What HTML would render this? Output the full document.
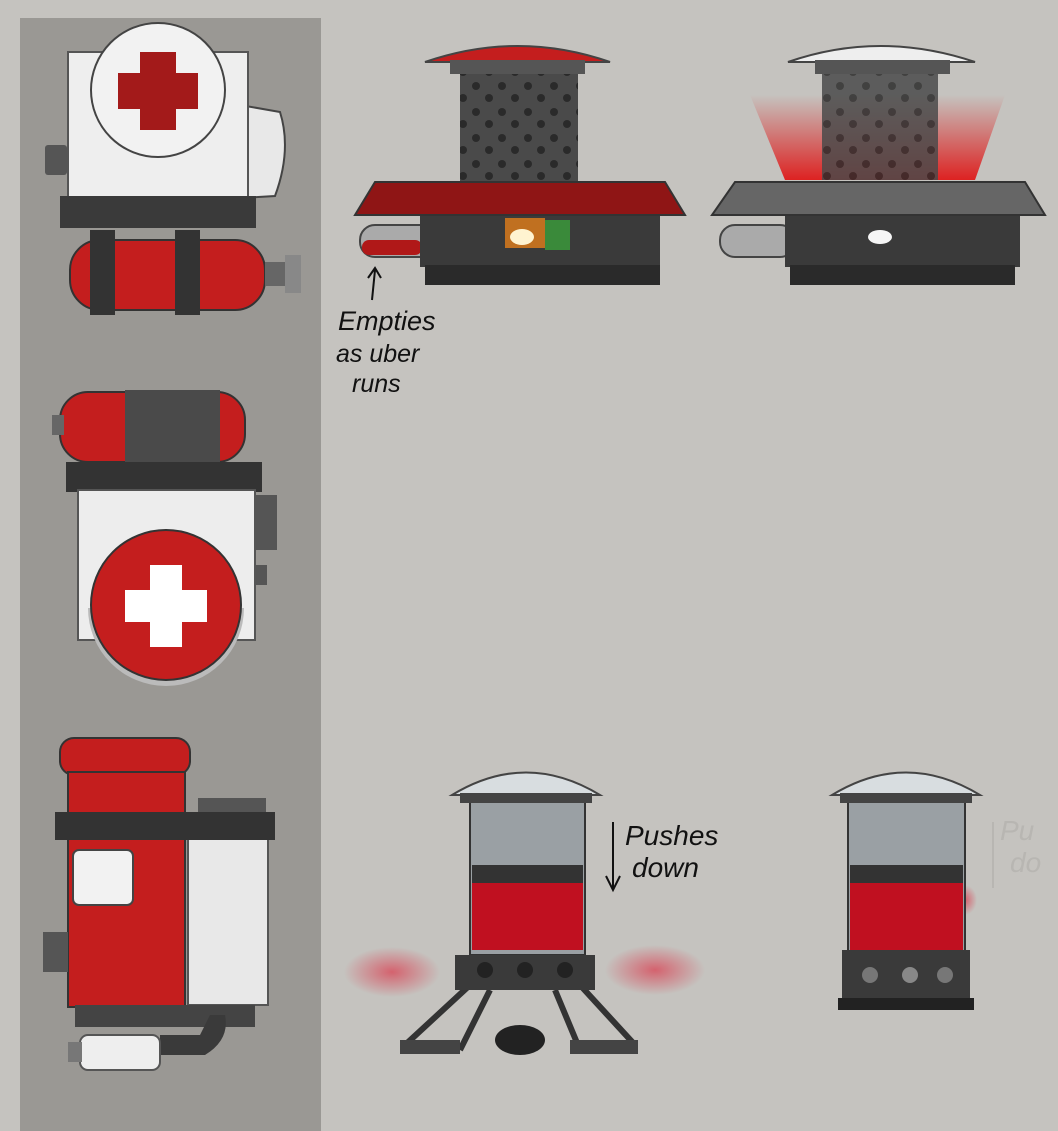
<!DOCTYPE html>
<html><head><meta charset="utf-8"><style>
html,body{margin:0;padding:0;background:#c5c3bf;}
svg{display:block}
text{font-family:"Liberation Sans",sans-serif;font-style:italic;}
</style></head><body>
<svg width="1058" height="1131" viewBox="0 0 1058 1131" xmlns="http://www.w3.org/2000/svg">
<defs>
<pattern id="dots" width="26" height="26" patternUnits="userSpaceOnUse">
<rect width="26" height="26" fill="#4a4a4a"/><circle cx="8" cy="8" r="4" fill="#2a2a2a"/><circle cx="21" cy="20" r="4" fill="#2a2a2a"/>
</pattern>
<linearGradient id="glow" x1="0" y1="1" x2="0" y2="0"><stop offset="0" stop-color="#e01010" stop-opacity="0.9"/><stop offset="1" stop-color="#e01010" stop-opacity="0"/></linearGradient>
<radialGradient id="blob"><stop offset="0" stop-color="#d84a5a" stop-opacity="0.8"/><stop offset="1" stop-color="#d84a5a" stop-opacity="0"/></radialGradient>
</defs>
<rect width="1058" height="1131" fill="#c5c3bf"/>
<rect x="20" y="18" width="301" height="1113" fill="#9a9894"/>

<!-- top-left medic pack -->
<rect x="45" y="145" width="22" height="30" fill="#555" rx="3"/>
<path d="M240 105 L280 112 Q292 150 275 196 L240 198 Z" fill="#e8e8e8" stroke="#444" stroke-width="2"/>
<rect x="68" y="52" width="180" height="148" fill="#eeeeee" stroke="#555" stroke-width="2"/>
<circle cx="158" cy="90" r="67" fill="#f2f2f2" stroke="#444" stroke-width="2"/>
<rect x="140" y="52" width="36" height="78" fill="#a31a1a"/>
<rect x="118" y="73" width="80" height="36" fill="#a31a1a"/>
<rect x="60" y="196" width="196" height="32" fill="#3a3a3a"/>
<rect x="70" y="240" width="195" height="70" rx="30" fill="#c41e1e" stroke="#333" stroke-width="2"/>
<rect x="90" y="230" width="25" height="85" fill="#333"/>
<rect x="175" y="230" width="25" height="85" fill="#333"/>
<rect x="265" y="262" width="20" height="24" fill="#666"/>
<rect x="285" y="255" width="16" height="38" fill="#888"/>

<!-- middle-left -->
<rect x="60" y="392" width="185" height="70" rx="28" fill="#c41e1e" stroke="#333" stroke-width="2"/>
<rect x="52" y="415" width="12" height="20" fill="#666"/>
<rect x="125" y="390" width="95" height="75" fill="#4a4a4a"/>
<rect x="66" y="462" width="196" height="30" fill="#333"/>
<rect x="78" y="490" width="177" height="150" fill="#ededed" stroke="#555" stroke-width="2"/>
<rect x="255" y="495" width="22" height="55" fill="#555"/>
<rect x="255" y="565" width="12" height="20" fill="#555"/>
<path d="M88 608 A78 78 0 0 0 244 608 Z" fill="#bbb"/>
<circle cx="166" cy="605" r="75" fill="#c41e1e" stroke="#333" stroke-width="2"/>
<rect x="150" y="565" width="32" height="82" fill="#fff"/>
<rect x="125" y="590" width="82" height="32" fill="#fff"/>

<!-- bottom-left -->
<rect x="60" y="738" width="130" height="37" rx="14" fill="#c41e1e" stroke="#333" stroke-width="2"/>
<rect x="68" y="772" width="117" height="235" fill="#c41e1e" stroke="#333" stroke-width="2"/>
<rect x="43" y="932" width="25" height="40" fill="#555"/>
<rect x="198" y="798" width="68" height="20" fill="#555"/>
<rect x="188" y="815" width="80" height="190" fill="#e8e8e8" stroke="#555" stroke-width="2"/>
<rect x="55" y="812" width="220" height="28" fill="#333"/>
<rect x="73" y="850" width="60" height="55" rx="6" fill="#f2f2f2" stroke="#444" stroke-width="2"/>
<rect x="75" y="1005" width="180" height="22" fill="#444"/>
<path d="M210 1015 L225 1015 Q230 1040 205 1055 L160 1055 L160 1035 L200 1035 Z" fill="#3a3a3a"/>
<rect x="80" y="1035" width="80" height="35" rx="8" fill="#eee" stroke="#555" stroke-width="2"/>
<rect x="68" y="1042" width="14" height="20" fill="#777"/>

<!-- top-middle -->
<rect x="360" y="225" width="75" height="32" rx="15" fill="#aaa" stroke="#444" stroke-width="2"/>
<rect x="362" y="240" width="60" height="15" rx="7" fill="#b01818"/>
<rect x="420" y="212" width="240" height="55" fill="#3a3a3a"/>
<rect x="425" y="265" width="235" height="20" fill="#2a2a2a"/>
<rect x="505" y="218" width="40" height="30" fill="#c07020"/>
<ellipse cx="522" cy="237" rx="12" ry="8" fill="#fff3d0"/>
<rect x="545" y="220" width="25" height="30" fill="#3a8a3a"/>
<rect x="460" y="65" width="118" height="120" fill="url(#dots)"/>
<path d="M375 182 L665 182 L685 215 L355 215 Z" fill="#8f1515" stroke="#333" stroke-width="2"/>
<path d="M425 62 Q518 30 610 62 Z" fill="#c41e1e" stroke="#444" stroke-width="2"/>
<rect x="450" y="60" width="135" height="14" fill="#555"/>

<!-- top-right -->
<path d="M750 95 L1005 95 L975 180 L785 180 Z" fill="url(#glow)"/>
<rect x="720" y="225" width="75" height="32" rx="15" fill="#aaa" stroke="#444" stroke-width="2"/>
<rect x="785" y="212" width="235" height="55" fill="#3a3a3a"/>
<rect x="790" y="265" width="225" height="20" fill="#2a2a2a"/>
<ellipse cx="880" cy="237" rx="12" ry="7" fill="#f5f5f5"/>
<rect x="822" y="65" width="116" height="115" fill="url(#dots)" opacity="0.85"/>
<path d="M735 182 L1025 182 L1045 215 L712 215 Z" fill="#666" stroke="#333" stroke-width="2"/>
<path d="M788 62 Q880 30 975 62 Z" fill="#eee" stroke="#444" stroke-width="2"/>
<rect x="815" y="60" width="135" height="14" fill="#555"/>

<!-- annotations -->
<path d="M372 300 L375 270 M368 278 L375 268 L381 278" stroke="#111" stroke-width="2" fill="none"/>
<text x="338" y="330" font-size="27" fill="#111">Empties</text>
<text x="336" y="362" font-size="25" fill="#111">as uber</text>
<text x="352" y="392" font-size="25" fill="#111">runs</text>

<!-- bottom-middle -->
<ellipse cx="392" cy="972" rx="48" ry="25" fill="url(#blob)"/>
<ellipse cx="655" cy="970" rx="50" ry="25" fill="url(#blob)"/>
<path d="M470 985 L405 1045 M490 990 L460 1050 M555 990 L580 1050 M580 985 L635 1045" stroke="#333" stroke-width="6"/>
<rect x="400" y="1040" width="60" height="14" fill="#444"/>
<rect x="570" y="1040" width="68" height="14" fill="#444"/>
<ellipse cx="520" cy="1040" rx="25" ry="15" fill="#222"/>
<rect x="470" y="800" width="115" height="155" fill="#9aa0a4" stroke="#333" stroke-width="2"/>
<rect x="472" y="865" width="111" height="85" fill="#c01020"/>
<rect x="472" y="865" width="111" height="18" fill="#333"/>
<rect x="455" y="955" width="140" height="35" fill="#3a3a3a"/>
<circle cx="485" cy="970" r="8" fill="#222"/><circle cx="525" cy="970" r="8" fill="#222"/><circle cx="565" cy="970" r="8" fill="#222"/>
<path d="M452 795 Q526 750 600 795 Z" fill="#d8dde0" stroke="#444" stroke-width="2"/>
<rect x="460" y="793" width="132" height="10" fill="#444"/>
<path d="M613 822 L613 888 M606 876 L613 890 L620 876" stroke="#111" stroke-width="2" fill="none"/>
<text x="625" y="845" font-size="28" fill="#111">Pushes</text>
<text x="632" y="877" font-size="28" fill="#111">down</text>

<!-- bottom-right -->
<ellipse cx="965" cy="900" rx="12" ry="15" fill="url(#blob)"/>
<rect x="848" y="800" width="117" height="152" fill="#9aa0a4" stroke="#333" stroke-width="2"/>
<rect x="850" y="865" width="113" height="85" fill="#c01020"/>
<rect x="850" y="865" width="113" height="18" fill="#333"/>
<rect x="842" y="950" width="128" height="50" fill="#3a3a3a"/>
<rect x="838" y="998" width="136" height="12" fill="#222"/>
<circle cx="870" cy="975" r="8" fill="#777"/><circle cx="910" cy="975" r="8" fill="#888"/><circle cx="945" cy="975" r="8" fill="#777"/>
<path d="M832 795 Q906 750 980 795 Z" fill="#d8dde0" stroke="#444" stroke-width="2"/>
<rect x="840" y="793" width="132" height="10" fill="#444"/>
<text x="1000" y="840" font-size="28" fill="#b8b6b2">Pu</text>
<text x="1010" y="872" font-size="28" fill="#b8b6b2">do</text>
<path d="M993 822 L993 888" stroke="#b8b6b2" stroke-width="2"/>
</svg>
</body></html>
